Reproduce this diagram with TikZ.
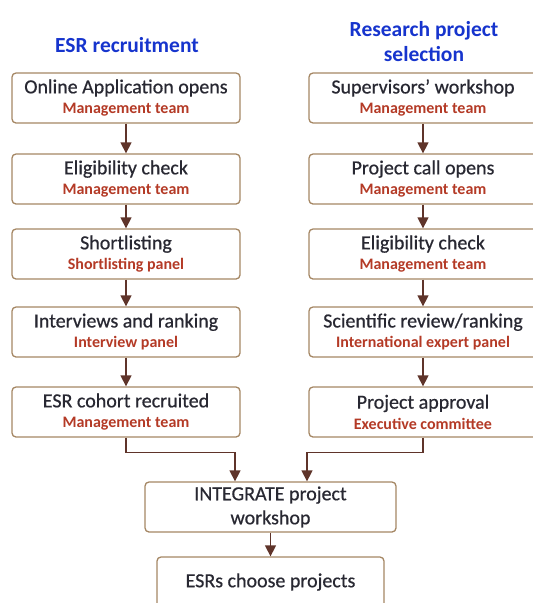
\documentclass[tikz,border=0pt]{standalone}
\usepackage{fontspec}
\setmainfont{Carlito}
\newfontfamily\semi{Carlito}[FakeBold=0.6]
\usepackage{tikz}
\usetikzlibrary{shapes,arrows.meta,positioning}

\definecolor{boxline}{RGB}{165,135,100}
\definecolor{flow}{RGB}{95,52,42}
\definecolor{team}{RGB}{180,58,38}
\definecolor{head}{RGB}{22,52,205}
\definecolor{ink}{RGB}{40,40,50}
\newcommand{\who}[1]{{\normalfont\fontsize{16}{18}\selectfont\bfseries\color{team}#1}}

\begin{document}
\begin{tikzpicture}[x=1pt,y=-1pt]
			\tikzstyle{Step}	= [draw=boxline, line width=1.3pt, rounded corners=4pt, fill=white, minimum width=228pt, minimum height=50pt, inner sep=0pt, align=center, text=ink, font=\semi\fontsize{20}{20.5}\selectfont]
			\tikzstyle{Title}	= [text=head, align=center, font=\fontsize{21.5}{25}\selectfont\bfseries]
			\tikzstyle{Flow}	= [line width=1.4pt, draw=flow, -{Triangle[length=11pt,width=11pt]}]

			\useasboundingbox (0,0) rectangle (533,603);
			\clip (0,0) rectangle (533,603);

			\node (t1) at (127,45) [Title] {ESR recruitment};
			\node (t2) at (424,42) [Title] {Research project\\selection};

			\node (e1) at (126,98) [Step] {Online Application opens\\\who{Management team}};
			\node (e2) at (126,179) [Step] {Eligibility check\\\who{Management team}};
			\node (e3) at (126,254) [Step] {Shortlisting\\\who{Shortlisting panel}};
			\node (e4) at (126,332) [Step] {Interviews and ranking\\\who{Interview panel}};
			\node (e5) at (126,412) [Step] {ESR cohort recruited\\\who{Management team}};

			\node (r1) at (423,98) [Step] {Supervisors’ workshop\\\who{Management team}};
			\node (r2) at (423,179) [Step] {Project call opens\\\who{Management team}};
			\node (r3) at (423,254) [Step] {Eligibility check\\\who{Management team}};
			\node (r4) at (423,332) [Step] {Scientific review/ranking\\\who{International expert panel}};
			\node (r5) at (423,412) [Step] {Project approval\\\who{Executive committee}};

			\node (ws) at (270.5,507) [Step, minimum width=251pt, font=\semi\fontsize{20}{24}\selectfont] {INTEGRATE project\\workshop};
			\node (ch) at (270.5,582) [Step, minimum width=227pt] {ESRs choose projects};

			\draw [Flow] (e1) to (e2);
			\draw [Flow] (e2) to (e3);
			\draw [Flow] (e3) to (e4);
			\draw [Flow] (e4) to (e5);
			\draw [Flow] (r1) to (r2);
			\draw [Flow] (r2) to (r3);
			\draw [Flow] (r3) to (r4);
			\draw [Flow] (r4) to (r5);
			\draw [Flow] (e5.south) -- ++(0,15) -| ([xshift=-35.5pt]ws.north);
			\draw [Flow] (r5.south) -- ++(0,15) -| ([xshift=36.5pt]ws.north);
			\draw [Flow] (ws) to (ch);
		\end{tikzpicture}
\end{document}
